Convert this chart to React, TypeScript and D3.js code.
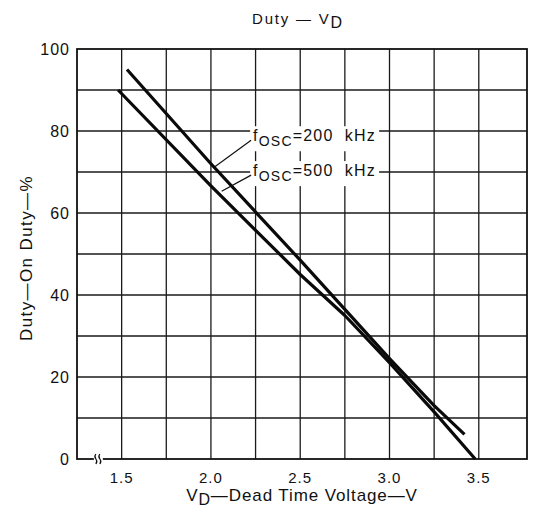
import React from "react";
import * as d3 from "d3";

const xDomain = [1.25, 3.77];
const yDomain = [0, 100];
const xTickValues = [1.5, 2.0, 2.5, 3.0, 3.5];
const xTickLabels = ["1.5", "2.0", "2.5", "3.0", "3.5"];
const yTickValues = [0, 20, 40, 60, 80, 100];
const xGridValues = [1.5, 1.75, 2.0, 2.25, 2.5, 2.75, 3.0, 3.25, 3.5];
const yGridValues = [10, 20, 30, 40, 50, 60, 70, 80, 90];

const vd200 = [1.53, 2.0, 2.5, 2.75, 3.0, 3.25, 3.42];
const duty200 = [95, 72, 48.5, 36.5, 24.5, 13, 6];
const vd500 = [1.48, 2.0, 2.5, 2.75, 3.0, 3.25, 3.48];
const duty500 = [90, 66.6, 45, 35, 23.5, 11.5, 0];

const labelFreqs = ["200", "500"];
const labelAt = [
  { v: 2.225, d: 77.5 },
  { v: 2.225, d: 69 },
];
const leaderEnd = [
  { v: 2.02, d: 71.2 },
  { v: 2.06, d: 65.3 },
];
const breakAt = 1.35;

const W = 541;
const H = 514;
const L = 77, R = 527, T = 49, B = 459;
const FONT = "'Liberation Sans', Arial, Helvetica, sans-serif";

export default function App() {
  const x = d3.scaleLinear().domain(xDomain).range([L, R]);
  const y = d3.scaleLinear().domain(yDomain).range([B, T]);
  const line = d3
    .line<[number, number]>()
    .x((p) => x(p[0]))
    .y((p) => y(p[1]));
  const s200 = vd200.map((v, i) => [v, duty200[i]] as [number, number]);
  const s500 = vd500.map((v, i) => [v, duty500[i]] as [number, number]);
  const bx = x(breakAt);

  return (
    <svg
      width={W}
      height={H}
      style={{ position: "absolute", left: 0, top: 0, background: "#fff" }}
      fontFamily={FONT}
    >
      <rect x={0} y={0} width={W} height={H} fill="#fff" />
      {xGridValues.map((v) => (
        <line key={"gx" + v} x1={x(v)} x2={x(v)} y1={T} y2={B} stroke="#1a1a1a" strokeWidth={1.3} />
      ))}
      {yGridValues.map((v) => (
        <line key={"gy" + v} x1={L} x2={R} y1={y(v)} y2={y(v)} stroke="#1a1a1a" strokeWidth={1.3} />
      ))}
      <rect x={L} y={T} width={R - L} height={B - T} fill="none" stroke="#111" strokeWidth={1.8} />
      <rect x={bx - 1} y={B - 3} width={9} height={6} fill="#fff" />
      <path d={`M${bx + 1},${B - 5} q-2,2.5 0,5 q2,2.5 0,5`} fill="none" stroke="#111" strokeWidth={1.2} />
      <path d={`M${bx + 5},${B - 5} q-2,2.5 0,5 q2,2.5 0,5`} fill="none" stroke="#111" strokeWidth={1.2} />
      <path d={line(s500) || ""} fill="none" stroke="#0a0a0a" strokeWidth={3.2} strokeLinejoin="round" />
      <path d={line(s200) || ""} fill="none" stroke="#0a0a0a" strokeWidth={3.2} strokeLinejoin="round" />
      {labelFreqs.map((f, i) => {
        const lx = x(labelAt[i].v);
        const ly = y(labelAt[i].d);
        return (
          <g key={f}>
            <rect x={lx - 1} y={ly - 15} width={129} height={25} fill="#fff" />
            <line
              x1={lx}
              y1={ly - 1}
              x2={x(leaderEnd[i].v)}
              y2={y(leaderEnd[i].d)}
              stroke="#111"
              strokeWidth={1.2}
            />
            <text x={lx + 2} y={ly} fontSize={16} fill="#111" letterSpacing={1.2}>
              f
              <tspan fontSize={14} dy={5}>OSC</tspan>
              <tspan fontSize={16} dy={-5}>{"=" + f + "\u00a0\u00a0kHz"}</tspan>
            </text>
          </g>
        );
      })}
      {yTickValues.map((v) => (
        <text key={"yt" + v} x={70} y={y(v) + 5.5} textAnchor="end" fontSize={16} fill="#111" letterSpacing={1}>
          {v}
        </text>
      ))}
      {xTickValues.map((v, i) => (
        <text key={"xt" + v} x={x(v)} y={483} textAnchor="middle" fontSize={15} fill="#111" letterSpacing={1}>
          {xTickLabels[i]}
        </text>
      ))}
      <text x={298} y={24} textAnchor="middle" fontSize={15} fill="#111" letterSpacing={1.8}>
        {"Duty \u2014 V"}
        <tspan dy={4} fontSize={16}>D</tspan>
      </text>
      <text x={302} y={501} textAnchor="middle" fontSize={17} fill="#111" letterSpacing={0.9}>
        V<tspan dy={4} fontSize={16}>D</tspan>
        <tspan dy={-4}>{"\u2014Dead Time Voltage\u2014V"}</tspan>
      </text>
      <text
        transform={`translate(32,${(T + B) / 2 + 4}) rotate(-90)`}
        textAnchor="middle"
        fontSize={17}
        fill="#111"
        letterSpacing={1.4}
      >
        {"Duty\u2014On Duty\u2014%"}
      </text>
    </svg>
  );
}
